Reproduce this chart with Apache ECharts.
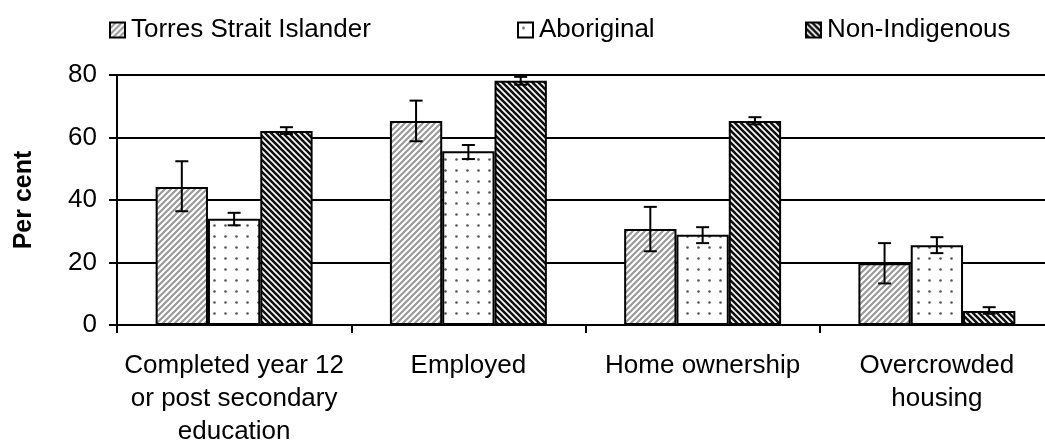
<!DOCTYPE html>
<html>
<head>
<meta charset="utf-8">
<script src="https://cdn.jsdelivr.net/npm/echarts@6/dist/echarts.min.js"></script>
<style>
  html, body { margin: 0; padding: 0; background: #fff; }
  #chart { width: 1045px; height: 441px; }
</style>
</head>
<body>
<div id="chart"></div>
<script>
// chart data
const categories = [
  'Completed year 12\nor post secondary\neducation',
  'Employed',
  'Home ownership',
  'Overcrowded\nhousing'
];
const seriesNames = ['Torres Strait Islander', 'Aboriginal', 'Non-Indigenous'];
const torres = [44.2, 65.3, 30.7, 19.8];
const torresLow = [36.4, 58.8, 23.6, 13.3];
const torresHigh = [52.4, 71.8, 37.8, 26.2];
const aboriginal = [34.0, 55.6, 28.9, 25.5];
const aboriginalLow = [31.9, 53.1, 26.2, 23.0];
const aboriginalHigh = [35.9, 57.6, 31.3, 28.1];
const nonIndigenous = [62.1, 78.2, 65.3, 4.5];
const nonIndigenousLow = [61.1, 76.9, 64.2, 3.6];
const nonIndigenousHigh = [63.3, 79.4, 66.5, 5.7];
const yTicks = [0, 20, 40, 60, 80];

const FONT = '"Liberation Sans", Arial, sans-serif';

// fill patterns for the bars
function stripes(size, color, width, up) {
  const c = document.createElement('canvas');
  c.width = size; c.height = size;
  const ctx = c.getContext('2d');
  ctx.fillStyle = '#fff';
  ctx.fillRect(0, 0, size, size);
  ctx.strokeStyle = color;
  ctx.lineWidth = width;
  ctx.beginPath();
  if (up) {
    ctx.moveTo(0, size); ctx.lineTo(size, 0);
    ctx.moveTo(-1, 1); ctx.lineTo(1, -1);
    ctx.moveTo(size - 1, size + 1); ctx.lineTo(size + 1, size - 1);
  } else {
    ctx.moveTo(0, 0); ctx.lineTo(size, size);
    ctx.moveTo(-1, size - 1); ctx.lineTo(1, size + 1);
    ctx.moveTo(size - 1, -1); ctx.lineTo(size + 1, 1);
  }
  ctx.stroke();
  return c;
}
function dots(size, color) {
  const c = document.createElement('canvas');
  c.width = size; c.height = size;
  const ctx = c.getContext('2d');
  ctx.fillStyle = '#fff';
  ctx.fillRect(0, 0, size, size);
  ctx.fillStyle = color;
  ctx.beginPath();
  ctx.arc(size / 2, size / 2, 1.3, 0, Math.PI * 2);
  ctx.fill();
  return c;
}

const fills = [
  { image: stripes(6, '#9a9a9a', 2.2, true), repeat: 'repeat' },
  { image: dots(11, '#555'), repeat: 'repeat' },
  { image: stripes(6, '#111', 2.6, false), repeat: 'repeat' }
];
const values = [torres, aboriginal, nonIndigenous];
const lows = [torresLow, aboriginalLow, nonIndigenousLow];
const highs = [torresHigh, aboriginalHigh, nonIndigenousHigh];

const errData = [];
for (let s = 0; s < 3; s++) {
  for (let i = 0; i < categories.length; i++) {
    errData.push([i, lows[s][i], highs[s][i], s]);
  }
}

// error bars drawn over the grouped bars
function renderError(params, api) {
  const idx = api.value(0);
  const lo = api.coord([idx, api.value(1)]);
  const hi = api.coord([idx, api.value(2)]);
  const band = api.size([1, 0])[0];
  const barW = band * 0.67 / 3;
  const x = lo[0] + (api.value(3) - 1) * barW;
  const cap = 6.5;
  const style = { stroke: '#000', lineWidth: 2 };
  return {
    type: 'group',
    children: [
      { type: 'line', shape: { x1: x, y1: hi[1], x2: x, y2: lo[1] }, style: style },
      { type: 'line', shape: { x1: x - cap, y1: hi[1], x2: x + cap, y2: hi[1] }, style: style },
      { type: 'line', shape: { x1: x - cap, y1: lo[1], x2: x + cap, y2: lo[1] }, style: style }
    ]
  };
}

const legendLefts = [109, 517, 805];

const chart = echarts.init(document.getElementById('chart'));
chart.setOption({
  animation: false,
  backgroundColor: '#fff',
  textStyle: { fontFamily: FONT },
  legend: seriesNames.map((name, i) => ({
    data: [name],
    left: legendLefts[i],
    top: 17,
    padding: 0,
    icon: 'rect',
    itemWidth: 15,
    itemHeight: 15,
    itemGap: 0,
    textStyle: { fontSize: 26, color: '#000', fontFamily: FONT, padding: [0, 0, 0, 1] }
  })),
  grid: {
    left: 117,
    top: 75,
    width: 937,
    height: 250,
    outerBoundsMode: 'none'
  },
  xAxis: {
    type: 'category',
    data: categories,
    boundaryGap: true,
    axisLine: { lineStyle: { color: '#000', width: 2 } },
    axisTick: { show: true, length: 8, lineStyle: { color: '#000', width: 2 } },
    axisLabel: {
      color: '#000',
      fontSize: 26,
      lineHeight: 33,
      margin: 24,
      interval: 0,
      fontFamily: FONT
    }
  },
  yAxis: {
    type: 'value',
    min: yTicks[0],
    max: yTicks[yTicks.length - 1],
    interval: 20,
    name: 'Per cent',
    nameLocation: 'middle',
    nameRotate: 90,
    nameGap: 80,
    nameTextStyle: { fontSize: 25, fontWeight: 'bold', color: '#000', fontFamily: FONT },
    axisLine: { show: true, lineStyle: { color: '#000', width: 2 } },
    axisTick: { show: true, length: 8, lineStyle: { color: '#000', width: 2 } },
    axisLabel: { color: '#000', fontSize: 26, margin: 20, fontFamily: FONT },
    splitLine: { show: true, lineStyle: { color: '#000', width: 2 } }
  },
  series: seriesNames.map((name, s) => ({
    name: name,
    type: 'bar',
    data: values[s],
    barGap: '0%',
    barCategoryGap: '33%',
    itemStyle: { color: fills[s], borderColor: '#000', borderWidth: 2 }
  })).concat([{
    type: 'custom',
    data: errData,
    renderItem: renderError,
    z: 10,
    silent: true
  }])
});
</script>
</body>
</html>
